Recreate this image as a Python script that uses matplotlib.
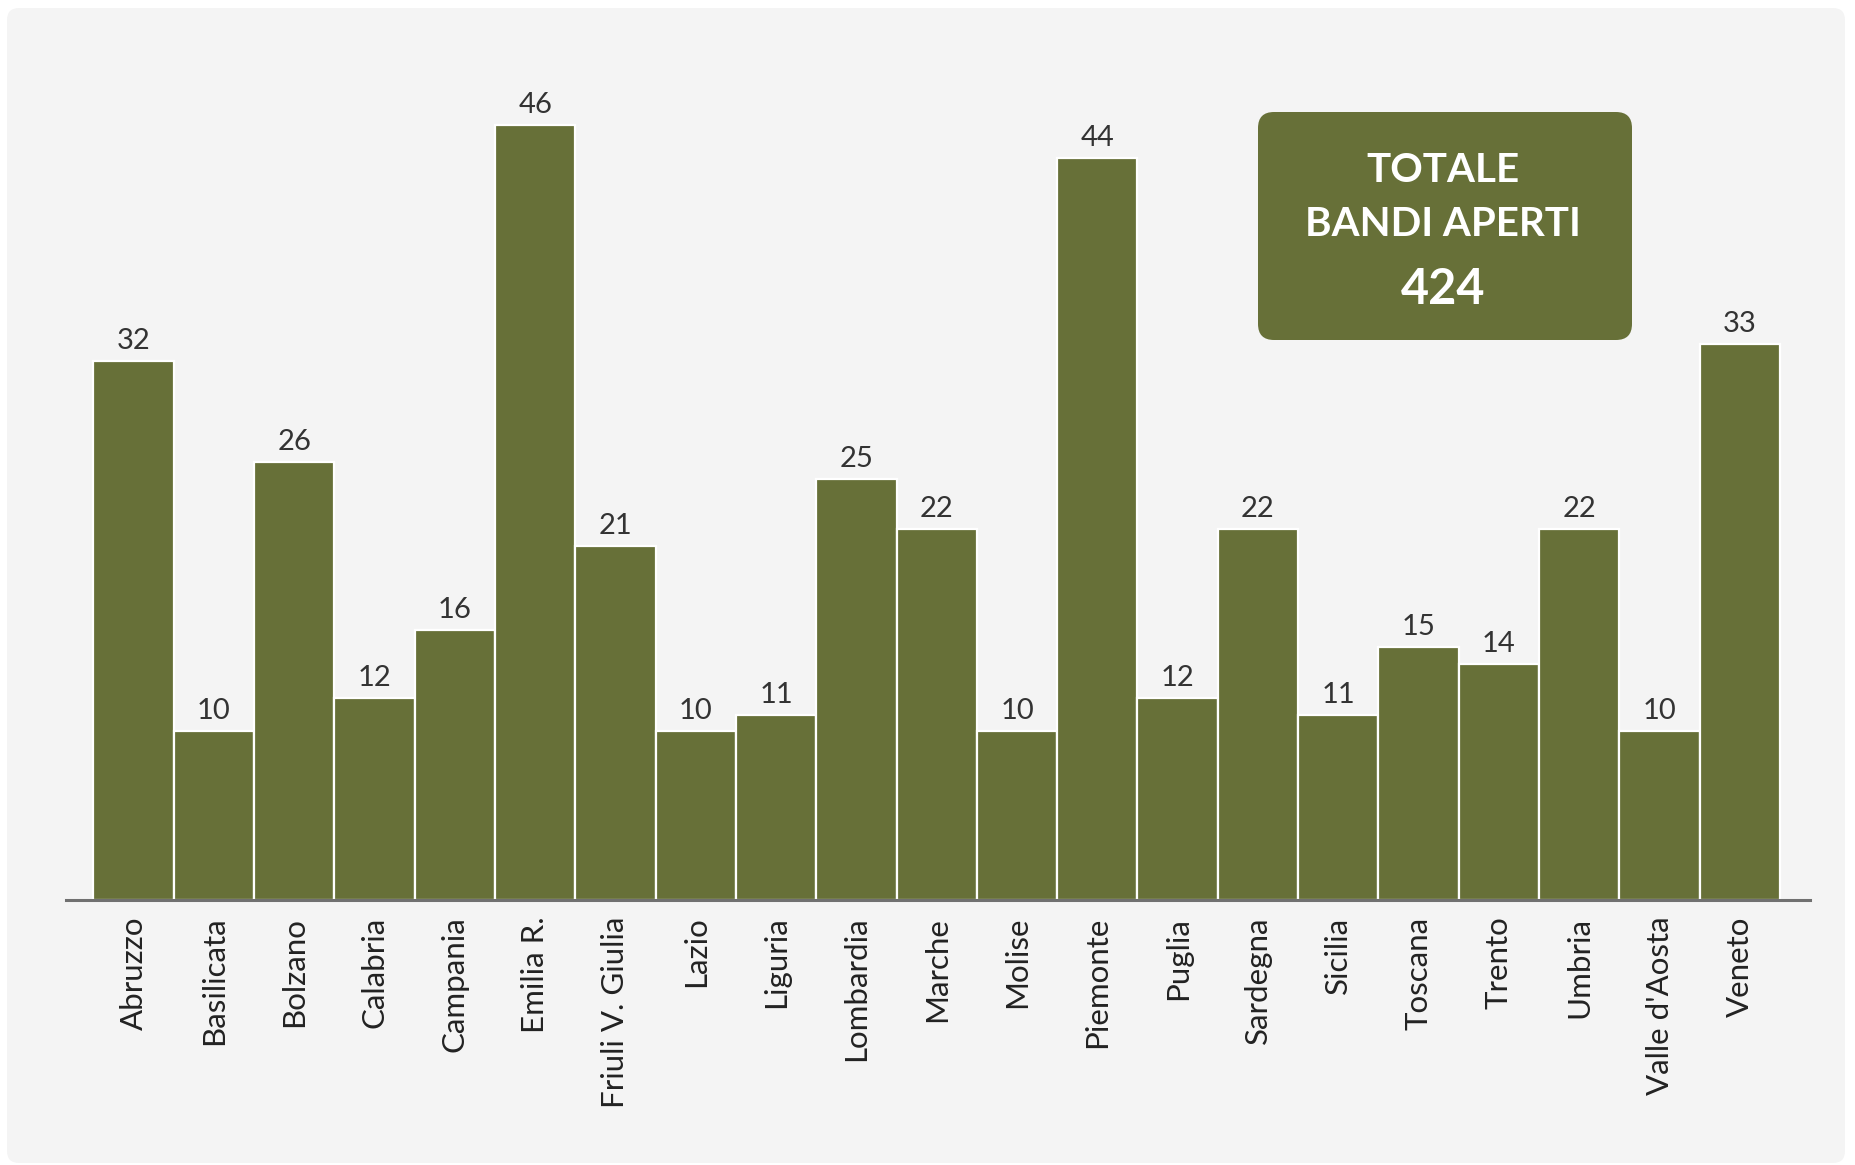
import matplotlib
matplotlib.use("Agg")
import matplotlib.pyplot as plt
from matplotlib.patches import FancyBboxPatch

regions = ["Abruzzo", "Basilicata", "Bolzano", "Calabria", "Campania", "Emilia R.",
           "Friuli V. Giulia", "Lazio", "Liguria", "Lombardia", "Marche", "Molise",
           "Piemonte", "Puglia", "Sardegna", "Sicilia", "Toscana", "Trento", "Umbria",
           "Valle d'Aosta", "Veneto"]
bandi = [32, 10, 26, 12, 16, 46, 21, 10, 11, 25, 22, 10, 44, 12, 22, 11, 15, 14, 22, 10, 33]

plt.rcParams['font.family'] = ['Lato', 'DejaVu Sans']

W, H = 1855, 1165
fig = plt.figure(figsize=(W / 100, H / 100), dpi=100, facecolor="white")

olive = "#677038"
panel_bg = "#f4f4f4"

# background rounded panel
panel = FancyBboxPatch((0.07, 0.02), 18.38, 11.55,
                       boxstyle="round,pad=0,rounding_size=0.12",
                       transform=fig.dpi_scale_trans, facecolor=panel_bg,
                       edgecolor="none", zorder=-10)
fig.patches.append(panel)

ax = fig.add_axes([66 / W, 1 - 900 / H, (1810 - 66) / W, (900 - 20) / H])
ax.set_zorder(1)
ax.set_facecolor("none")
x = list(range(len(regions)))
ax.bar(x, bandi, width=1.0, color=olive, edgecolor="white", linewidth=1.6, zorder=2)
ax.set_xlim(-0.842, len(regions) - 0.126)
ax.set_ylim(0, 52.2)

for xi, v in zip(x, bandi):
    ax.annotate(str(v), (xi, v), xytext=(0, 5), textcoords="offset points",
                ha="center", va="bottom", fontsize=21, color="#333333", zorder=3)

ax.set_xticks(x)
ax.set_xticklabels(regions, rotation=90, fontsize=22.5, color="#222222")
ax.tick_params(axis="x", length=0, pad=12)
ax.set_yticks([])
for s in ["top", "right", "left"]:
    ax.spines[s].set_visible(False)
ax.spines["bottom"].set_color("#707070")
ax.spines["bottom"].set_linewidth(2.2)
ax.spines["bottom"].set_zorder(3)

# total box
box = FancyBboxPatch((12.58, 8.25), 3.74, 2.28,
                     boxstyle="round,pad=0,rounding_size=0.16",
                     transform=fig.dpi_scale_trans, facecolor=olive,
                     edgecolor="none", zorder=5)
fig.patches.append(box)
cx = 14.43
fig.text(cx / 18.55, 1 - 171 / H, "TOTALE", ha="center", va="center",
         fontsize=29, fontweight="bold", color="white", zorder=6)
fig.text(cx / 18.55, 1 - 225 / H, "BANDI APERTI", ha="center", va="center",
         fontsize=29, fontweight="bold", color="white", zorder=6)
fig.text(cx / 18.55, 1 - 290 / H, str(sum(bandi)), ha="center", va="center",
         fontsize=35, fontweight="bold", color="white", zorder=6)

fig.savefig("out.png", dpi=100, facecolor="white")
